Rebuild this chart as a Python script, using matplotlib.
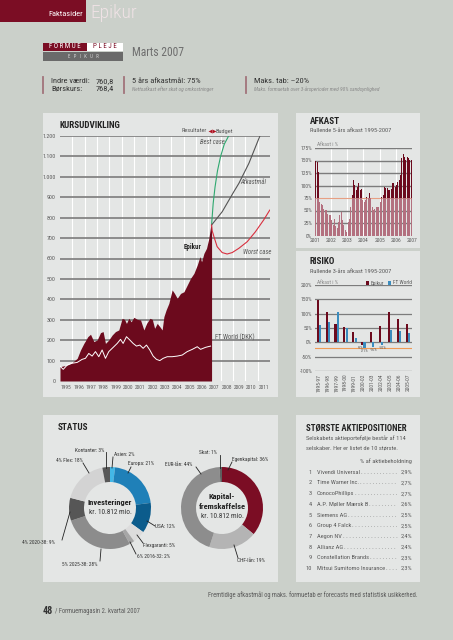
import matplotlib
matplotlib.use('Agg')
import matplotlib.pyplot as plt
from matplotlib.patches import Rectangle

plt.rcParams['font.family'] = ['Roboto Condensed', 'Liberation Sans Narrow', 'Liberation Sans', 'DejaVu Sans']

# ---------------- data ----------------
section_name = 'Faktasider'
fund_name = 'Epikur'
report_date = 'Marts 2007'
indre_vaerdi = '760,8'
boerskurs = '768,4'

kurs_years = list(range(1995, 2012))
kurs_yticks = list(range(0, 1300, 100))

epikur_t = [1995.0, 1995.58, 1995.98, 1996.39, 1996.66, 1996.93, 1997.25, 1997.47, 1997.74,
            1998.01, 1998.28, 1998.49, 1998.68, 1998.95, 1999.22, 1999.49, 1999.76, 2000.03,
            2000.22, 2000.38, 2000.57, 2000.76, 2000.98, 2001.25, 2001.52, 2001.79, 2002.01,
            2002.28, 2002.47, 2002.66, 2002.87, 2003.08, 2003.27, 2003.41, 2003.59, 2003.81,
            2004.08, 2004.27, 2004.49, 2004.76, 2005.03, 2005.30, 2005.57, 2005.84, 2006.11,
            2006.33, 2006.46, 2006.65, 2006.86, 2007.05, 2007.19, 2007.27]
epikur_v = [70, 78, 90, 111, 152, 184, 217, 229, 193,
            201, 237, 242, 184, 201, 225, 242, 250, 307,
            302, 282, 307, 290, 312, 302, 299, 250, 282,
            307, 302, 258, 282, 266, 250, 315, 348, 380,
            446, 429, 405, 429, 437, 470, 503, 527, 568,
            609, 584, 625, 650, 699, 756, 764]

ftworld_t = [1995.0, 1995.26, 1995.58, 1995.98, 1996.39, 1996.79, 1997.06, 1997.33, 1997.60,
             1997.87, 1998.14, 1998.41, 1998.68, 1998.95, 1999.36, 1999.63, 1999.90, 2000.11,
             2000.38, 2000.65, 2000.92, 2001.19, 2001.46, 2001.73, 2002.00, 2002.27, 2002.54,
             2002.81, 2003.08, 2003.35, 2003.68, 2004.08, 2004.49, 2004.89, 2005.30, 2005.71,
             2006.11, 2006.38, 2006.79, 2007.19]
ftworld_v = [73, 57, 78, 87, 91, 106, 111, 135, 122,
             144, 119, 152, 111, 144, 168, 184, 204, 184,
             217, 201, 184, 171, 176, 160, 176, 152, 122,
             106, 100, 111, 119, 119, 122, 127, 144, 155,
             168, 155, 165, 171]

best_t = [2007.27, 2007.40, 2007.55, 2007.75, 2008.00, 2008.30, 2008.65]
best_v = [764, 870, 950, 1030, 1100, 1160, 1200]
budget_t = [2007.27, 2008.13, 2009.07, 2009.48, 2010.29, 2011.18]
budget_v = [764, 829, 927, 968, 1066, 1200]
worst_t = [2007.27, 2007.32, 2007.40, 2007.46, 2007.72, 2008.13, 2008.53, 2008.94, 2009.48,
           2010.15, 2010.82, 2011.49, 2011.98]
worst_v = [764, 735, 720, 707, 658, 629, 622, 629, 650,
           682, 731, 789, 837]

afkast_years = list(range(2001, 2008))
afkast_values = [150, 148, 128, 68, 64, 61, 54, 51, 51, 44, 41, 41,
                 31, 21, 34, 19, 16, 28, 41, 48, 31, 21, 12, 7,
                 28, 34, 58, 82, 112, 101, 91, 98, 105, 91, 93, 71,
                 68, 71, 78, 75, 85, 75, 58, 51, 54, 58, 58, 58,
                 68, 78, 82, 98, 95, 95, 91, 91, 93, 105, 105, 98,
                 101, 108, 112, 122, 155, 164, 157, 152, 157, 155, 151, 152]
afkast_target = 75
afkast_yticks = [0, 25, 50, 75, 100, 125, 150, 175]

risiko_periods = ['1995-97', '1996-98', '1997-99', '1998-00', '1999-01', '2000-02',
                  '2001-03', '2002-04', '2003-05', '2004-06', '2005-07']
risiko_epikur = [148, 107, 64, 55, 37, -9, 35, 57, 105, 81, 64]
risiko_ftworld = [60, 72, 106, 49, 16, -21, -16, -10, 43, 40, 33]
risiko_yticks = [-100, -50, 0, 50, 100, 150, 200]
maks_tab = -20

inv_labels = ['Asien: 2%', 'Europa: 21%', 'USA: 12%', 'Flexgaranti: 5%', '6% 2016-32: 2%',
              '5% 2025-38: 28%', '4% 2020-38: 9%', '4% Flex: 18%', 'Kontanter: 3%']
inv_values = [2, 21, 12, 5, 2, 28, 9, 18, 3]
kap_labels = ['Egenkapital: 36%', 'CHF-lån: 19%', 'EUR-lån: 44%', 'Skat: 1%']
kap_values = [36, 19, 44, 1]

top10_names = ['Vivendi Universal', 'Time Warner Inc.', 'ConocoPhillips', 'A.P. Møller Mærsk B',
               'Siemens AG', 'Group 4 Falck', 'Aegon NV', 'Allianz AG', 'Constellation Brands',
               'Mitsui Sumitomo Insurance']
top10_weights = [2.9, 2.7, 2.7, 2.6, 2.5, 2.5, 2.4, 2.4, 2.3, 2.3]

# ---------------- style ----------------
BG = '#cbd0ca'
PANEL = '#e4e6e5'
DRED = '#6c0a1d'
HRED = '#7b0d24'
PINK = '#b3707f'
BLUE = '#3a8cbe'
GRID = '#7c7c7c'
TXT = '#333333'
GTXT = '#5a5a5a'

W, H = 453, 640
fig = plt.figure(figsize=(W / 100, H / 100), dpi=100)
fig.patch.set_facecolor(BG)


def add_ax(x, y, w, h, **kw):
    return fig.add_axes([x / W, 1 - (y + h) / H, w / W, h / H], **kw)


bg = add_ax(0, 0, W, H)
bg.set_xlim(0, W); bg.set_ylim(H, 0); bg.axis('off'); bg.set_zorder(0)

fg = add_ax(0, 0, W, H)
fg.set_xlim(0, W); fg.set_ylim(H, 0); fg.axis('off'); fg.set_zorder(20)

# header
bg.add_patch(Rectangle((0, 0), 86, 22, fc=HRED, ec='none'))
fg.text(48, 14.5, section_name, color='white', fontsize=6.0, va='center')
fg.text(90, 13.0, fund_name, color='#efe2e5', fontsize=14, va='center', fontweight='light')

# logo
bg.add_patch(Rectangle((43, 43), 44, 7.5, fc=HRED, ec='none'))
bg.add_patch(Rectangle((87, 43), 36, 7.5, fc='white', ec='none'))
bg.add_patch(Rectangle((43, 52), 80, 8.5, fc='#6a6a6a', ec='none'))
fg.text(65, 47, 'F O R M U E', color='white', fontsize=5.0, ha='center', va='center')
fg.text(105, 47, 'P L E J E', color=HRED, fontsize=5.0, ha='center', va='center')
fg.text(83, 56.5, 'E   P   I   K   U   R', color='#d8d8d8', fontsize=3.4, ha='center', va='center')
fg.text(132, 53, report_date, color='#6e6e6e', fontsize=8.4, va='center')

# info row
for xx in (43, 124, 246):
    bg.plot([xx, xx], [77, 93], color='#a2737b', lw=1.3)
fg.text(51, 81, 'Indre værdi:', color=TXT, fontsize=6.0, va='center')
fg.text(51, 88.5, 'Børskurs:', color=TXT, fontsize=6.0, va='center')
fg.text(114, 81, indre_vaerdi, color=TXT, fontsize=6.0, va='center', ha='right')
fg.text(114, 88.5, boerskurs, color=TXT, fontsize=6.0, va='center', ha='right')
fg.text(132, 81, '5 års afkastmål: 75%', color=TXT, fontsize=6.0, va='center')
fg.text(132, 89.5, 'Nettoafkast efter skat og omkostninger', color='#8a8a8a', fontsize=3.9,
        va='center', style='italic')
fg.text(254, 81, 'Maks. tab: –20%', color=TXT, fontsize=6.0, va='center')
fg.text(254, 89.5, 'Maks. formuetab over 3-årsperioder med 90% sandsynlighed', color='#8a8a8a',
        fontsize=3.9, va='center', style='italic')

# panels
bg.add_patch(Rectangle((43, 113), 235, 284, fc=PANEL, ec='none'))
bg.add_patch(Rectangle((296, 113), 124, 135, fc=PANEL, ec='none'))
bg.add_patch(Rectangle((296, 251), 124, 146, fc=PANEL, ec='none'))
bg.add_patch(Rectangle((43, 415), 235, 167, fc=PANEL, ec='none'))
bg.add_patch(Rectangle((296, 415), 124, 167, fc=PANEL, ec='none'))

# ---------------- KURSUDVIKLING ----------------
fg.text(60, 125, 'KURSUDVIKLING', color='#222', fontsize=6.6, fontweight='bold', va='center')
ax = add_ax(60, 136, 210, 245)
ax.set_zorder(5)
ax.patch.set_alpha(0)
ax.set_xlim(1995, 2012)
ax.set_ylim(0, 1200)
for s in ax.spines.values():
    s.set_visible(False)
for yv in kurs_yticks[1:]:
    ax.axhline(yv, color=GRID, lw=1.2, zorder=1)
for yr in kurs_years[1:]:
    ax.axvline(yr, color='white', lw=0.8, zorder=0.5)
ax.fill_between(epikur_t, epikur_v, 0, color=DRED, lw=0, zorder=2)
ax.plot(ftworld_t, ftworld_v, color='white', lw=0.7, zorder=3)
ax.plot(best_t, best_v, color='#2ea86f', lw=0.8, zorder=3)
ax.plot(budget_t, budget_v, color='#555555', lw=0.8, zorder=3)
ax.plot(worst_t, worst_v, color='#d8303f', lw=0.8, zorder=3)
ax.set_yticks(kurs_yticks)
ax.set_yticklabels([f'{v:,}'.replace(',', '.') for v in kurs_yticks])
ax.set_xticks([y + 0.5 for y in kurs_years])
ax.set_xticklabels([str(y) for y in kurs_years])
ax.tick_params(axis='y', length=0, labelsize=4.2, colors=GTXT, pad=3)
ax.tick_params(axis='x', length=0, labelsize=3.9, colors=GTXT, pad=3)
ax.text(2005.7, 658, 'Epikur', fontsize=5.0, fontweight='bold', color='#222', ha='center', va='center')
ax.text(2008.35, 1172, 'Best case', fontsize=4.8, style='italic', color=GTXT, ha='right', va='center')
ax.text(2009.62, 976, 'Afkastmål', fontsize=4.8, style='italic', color=GTXT, ha='left', va='center')
ax.text(2009.83, 633, 'Worst case', fontsize=4.8, style='italic', color=GTXT, ha='left', va='center')
ax.text(2007.55, 212, 'FT World (DKK)', fontsize=4.8, color=GTXT, ha='left', va='center')
fg.text(207, 131, 'Resultater', fontsize=4.6, color=GTXT, ha='right', va='center')
fg.plot([210.2], [131], marker='<', ms=2.8, color='#b01020', mew=0)
fg.plot([213.8], [131], marker='>', ms=2.8, color='#b01020', mew=0)
fg.text(216, 131, 'Budget', fontsize=4.6, color=GTXT, ha='left', va='center')

# ---------------- AFKAST ----------------
fg.text(310, 121, 'AFKAST', color='#222', fontsize=6.6, fontweight='bold', va='center')
fg.text(310, 131, 'Rullende 5-års afkast 1995-2007', color=GTXT, fontsize=4.6, va='center')
ax2 = add_ax(315, 148, 97, 87.5)
ax2.set_zorder(5)
ax2.patch.set_alpha(0)
ax2.set_xlim(2001, 2007)
ax2.set_ylim(0, 175)
for s in ax2.spines.values():
    s.set_visible(False)
for yv in afkast_yticks[1:]:
    if yv != afkast_target:
        ax2.axhline(yv, color=GRID, lw=1.0, zorder=1)
for yr in afkast_years[1:-1]:
    ax2.axvline(yr, color='white', lw=0.8, zorder=0.5)
ax2.axhline(afkast_target, color='#e7a084', lw=0.8, zorder=1.2)
bx = [2001 + (i + 0.5) / 12 for i in range(len(afkast_values))]
low = [min(v, afkast_target) for v in afkast_values]
high = [max(v - afkast_target, 0) for v in afkast_values]
ax2.bar(bx, low, width=0.75 / 12, color=PINK, lw=0, zorder=2)
ax2.bar(bx, high, bottom=afkast_target, width=0.75 / 12, color=DRED, lw=0, zorder=2)
ax2.set_yticks(afkast_yticks)
ax2.set_yticklabels([f'{v}%' for v in afkast_yticks])
ax2.set_xticks(afkast_years)
ax2.set_xticklabels([str(y) for y in afkast_years])
ax2.tick_params(length=0, labelsize=4.0, colors=GTXT, pad=2)
fg.text(317, 145, 'Afkast i %', color='#888', fontsize=3.9, va='center')

# ---------------- RISIKO ----------------
fg.text(310, 262, 'RISIKO', color='#222', fontsize=6.6, fontweight='bold', va='center')
fg.text(310, 271.5, 'Rullende 3-års afkast 1995-2007', color=GTXT, fontsize=4.6, va='center')
ax3 = add_ax(315, 285, 97, 86)
ax3.set_zorder(5)
ax3.patch.set_alpha(0)
ax3.set_ylim(-100, 200)
ax3.set_xlim(-0.43, 10.47)
for s in ax3.spines.values():
    s.set_visible(False)
for yv in risiko_yticks:
    ax3.axhline(yv, color=GRID, lw=0.9, zorder=1)
ax3.axhline(maks_tab, color='#ef9a55', lw=0.8, zorder=1.2)
gx = list(range(len(risiko_periods)))
ax3.bar([g - 0.13 for g in gx], risiko_epikur, width=0.24, color=DRED, lw=0, zorder=2)
ax3.bar([g + 0.13 for g in gx], risiko_ftworld, width=0.24, color=BLUE, lw=0, zorder=2)
for g, (e, f) in enumerate(zip(risiko_epikur, risiko_ftworld)):
    if e < 0:
        ax3.text(g - 0.3, e - 4, f'{e}%', fontsize=3.0, color=GTXT, ha='center', va='top')
    if f < 0:
        ax3.text(g + 0.15, f - 4, f'{f}%', fontsize=3.0, color=GTXT, ha='center', va='top')
ax3.set_yticks(risiko_yticks)
ax3.set_yticklabels([f'{v}%' for v in risiko_yticks])
ax3.set_xticks(gx)
ax3.set_xticklabels(risiko_periods, rotation=90)
ax3.tick_params(length=0, labelsize=4.0, colors=GTXT, pad=2)
fg.text(317, 283, 'Afkast i %', color='#888', fontsize=3.9, va='center')
fg.add_patch(Rectangle((366, 281.3), 3.4, 3.4, fc=DRED, ec='none'))
fg.text(371, 283, 'Epikur', color=GTXT, fontsize=3.9, va='center')
fg.add_patch(Rectangle((388, 281.3), 3.4, 3.4, fc=BLUE, ec='none'))
fg.text(393, 283, 'FT World', color=GTXT, fontsize=3.9, va='center')

# ---------------- STATUS ----------------
fg.text(58, 427, 'STATUS', color='#222', fontsize=6.6, fontweight='bold', va='center')
inv_colors = ['#43b7e6', '#1f80b8', '#0c5c8c', '#dcdcdc', '#a6a6a6', '#8c8c8c', '#565656',
              '#d3d3d3', '#585858']
kap_colors = [HRED, '#b4b4b4', '#8d8d8d', '#5e5e5e']

for cx, vals, cols in ((110, inv_values, inv_colors), (222, kap_values, kap_colors)):
    pa = add_ax(cx - 50, 508 - 50, 100, 100)
    pa.set_zorder(6)
    pa.pie(vals, colors=cols, startangle=90, counterclock=False, radius=41,
           wedgeprops=dict(width=15, linewidth=0))
    pa.set_xlim(-50, 50)
    pa.set_ylim(-50, 50)
    pa.axis('off')

fg.text(110, 502, 'Investeringer', fontsize=6.0, fontweight='bold', color='#222', ha='center', va='center')
fg.text(110, 512, 'kr. 10.812 mio.', fontsize=5.2, color=TXT, ha='center', va='center')
fg.text(222, 497, 'Kapital-', fontsize=6.0, fontweight='bold', color='#222', ha='center', va='center')
fg.text(222, 506.5, 'fremskaffelse', fontsize=6.0, fontweight='bold', color='#222', ha='center', va='center')
fg.text(222, 516, 'kr. 10.812 mio.', fontsize=5.2, color=TXT, ha='center', va='center')

LS = 3.9
lab_specs = [
    (inv_labels[0], 114, 454, 'left', [(113, 457), (112, 468)]),
    (inv_labels[1], 128, 464, 'left', [(131, 467), (128, 473)]),
    (inv_labels[2], 155, 526, 'left', [(147, 521), (155, 526)]),
    (inv_labels[3], 143, 545, 'left', [(137, 535), (143, 543)]),
    (inv_labels[4], 137, 556, 'left', [(130, 542), (136, 554)]),
    (inv_labels[5], 80, 565, 'center', [(101, 549), (100, 561)]),
    (inv_labels[6], 38, 543, 'center', [(70, 512), (62, 540)]),
    (inv_labels[7], 69, 460, 'center', [(83, 463), (89, 473)]),
    (inv_labels[8], 90, 450, 'center', [(106, 452), (106, 468)]),
    (kap_labels[0], 232, 459, 'left', [(232, 462), (228, 470)]),
    (kap_labels[1], 237, 561, 'left', [(234, 545), (238, 558)]),
    (kap_labels[2], 179, 464, 'center', [(196, 467), (201, 474)]),
    (kap_labels[3], 208, 453, 'center', [(220, 455), (220, 468)]),
]
for txt, tx, ty, ha, pts in lab_specs:
    fg.text(tx, ty, txt, fontsize=LS, color='#333', ha=ha, va='center')
    fg.plot([p[0] for p in pts], [p[1] for p in pts], color='#222', lw=0.6)

# ---------------- STØRSTE AKTIEPOSITIONER ----------------
FS = 4.6
fg.text(306, 428, 'STØRSTE AKTIEPOSITIONER', color='#222', fontsize=6.3, fontweight='bold', va='center')
fg.text(306, 438.5, 'Selskabets aktieportefølje består af 114', color=GTXT, fontsize=FS, va='center')
fg.text(306, 447.5, 'selskaber. Her er listet de 10 største.', color=GTXT, fontsize=FS, va='center')
fg.text(412, 461, '% af aktiebeholdning', color=GTXT, fontsize=FS, va='center', ha='right')

fig.canvas.draw()
renderer = fig.canvas.get_renderer()
probe = fg.text(0, -50, '. ' * 10 + '.', fontsize=FS)
pw = probe.get_window_extent(renderer).width
probe.remove()
dot_w = pw / 10.5

for i, (nm, wt) in enumerate(zip(top10_names, top10_weights)):
    y = 472.3 + 10.7 * i
    fg.text(312, y, str(i + 1), color=GTXT, fontsize=FS, va='center', ha='right')
    t1 = fg.text(317, y, nm, color=GTXT, fontsize=FS, va='center', ha='left')
    t2 = fg.text(412, y, f'{wt:.1f}'.replace('.', ',') + '%', color=GTXT, fontsize=FS,
                 va='center', ha='right')
    e1 = t1.get_window_extent(renderer)
    e2 = t2.get_window_extent(renderer)
    gap = e2.x0 - e1.x1 - 1.5
    n = max(int(gap / dot_w), 1)
    fg.text(317 + e1.width + 1.0, y, ('. ' * n).strip(), color=GTXT, fontsize=FS, va='center', ha='left')

# footer
fg.text(418, 595, 'Fremtidige afkastmål og maks. formuetab er forecasts med statistisk usikkerhed.',
        color=GTXT, fontsize=4.7, ha='right', va='center')
fg.text(43, 611, '48', color='#333', fontsize=7.2, fontweight='bold', va='center')
fg.text(55, 611.5, '/ Formuemagasin 2. kvartal 2007', color=GTXT, fontsize=4.7, va='center')

fig.savefig('out.png', dpi=100, facecolor=BG)
